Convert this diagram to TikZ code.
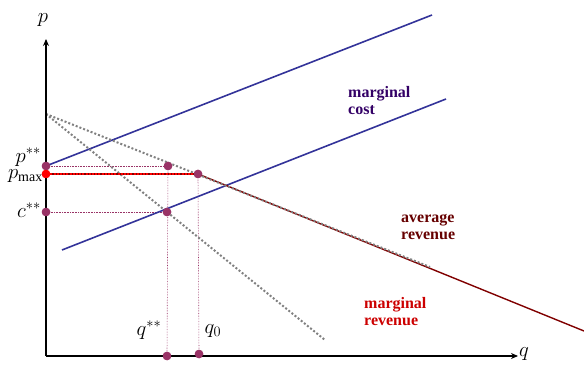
\documentclass[tikz,border=0pt]{standalone}
\usepackage{fontspec}
\setmainfont{Liberation Serif}
\usetikzlibrary{arrows.meta}
\definecolor{mcblue}{HTML}{333399}
\definecolor{ardark}{HTML}{800000}
\definecolor{dotpurple}{HTML}{993366}
\definecolor{mctext}{HTML}{330066}
\definecolor{artext}{HTML}{660000}
\definecolor{mrtext}{HTML}{CC0000}
\tikzset{
  axis/.style={line width=1.2pt, -{Stealth[length=7pt,width=6pt]}},
  mcline/.style={mcblue, line width=1.6pt},
  arline/.style={ardark, line width=1.4pt},
  grayline/.style={gray, line width=2pt, dotted},
  guide/.style={dotpurple, line width=0.6pt, densely dotted},
  dot/.style={circle, fill=dotpurple, inner sep=0pt, minimum size=8.5pt},
  reddot/.style={circle, fill=red, inner sep=0pt, minimum size=8.5pt},
  mlabel/.style={font=\fontsize{20}{20}\selectfont, inner sep=0pt},
  curvelabel/.style={font=\fontsize{16}{17}\selectfont\bfseries, align=left, inner sep=0pt, anchor=north west},
}
\begin{document}
\begin{tikzpicture}[x=1pt,y=-1pt]
\useasboundingbox (0,0) rectangle (584,374);
% coordinates
\coordinate (O) at (46,356);
\coordinate (ytop) at (46,39);
\coordinate (xend) at (518,356);
\coordinate (mc1a) at (46,166);
\coordinate (mc1b) at (432,15);
\coordinate (mc2a) at (62,250);
\coordinate (mc2b) at (446,99);
\coordinate (A) at (46,114);
\coordinate (arend) at (584,331);
\coordinate (grayend) at (430,267);
\coordinate (mrend) at (325,340);
% guides
\node[dot] (pss) at (46,166) {};
\node[dot] (css) at (46,212) {};
\node[dot] (Ep) at (168,166) {};
\node[dot] (Ec) at (167,212) {};
\node[dot] (E0) at (198,174) {};
\node[dot] (qss) at (167,356) {};
\node[dot] (q0) at (199,354) {};
\node[reddot] (pmax) at (46,174) {};
\draw[guide] (pss.center) -- (Ep.center);
\draw[guide] (css.center) -- (Ec.center);
\draw[guide] (Ep.center) -- (qss.center);
\draw[guide] (E0.center) -- (q0.center);
% curves
\draw[mcline] (mc1a) -- (mc1b);
\draw[mcline] (mc2a) -- (mc2b);
\draw[arline] (E0.center) -- (arend);
\draw[grayline] (A) -- (grayend);
\draw[grayline] (A) -- (mrend);
\draw[red, line width=2pt] (pmax.center) -- (E0.center);
\draw[ardark, line width=1.2pt, dotted] (pmax.center) -- (E0.center);
% axes
\draw[axis] (O) -- (ytop);
\draw[axis] (O) -- (xend);
% redraw dots above lines
\node[dot] at (pss) {};
\node[dot] at (css) {};
\node[dot] at (Ep) {};
\node[dot] at (Ec) {};
\node[dot] at (E0) {};
\node[dot] at (qss) {};
\node[dot] at (q0) {};
\node[reddot] at (pmax) {};
% labels
\node[mlabel] (lp) at (43,20) {$p$};
\node[mlabel] (lq) at (524,354) {$q$};
\node[mlabel, anchor=east] (lpss) at (41,157) {$p^{**}$};
\node[mlabel, anchor=east] (lpmax) at (43,176) {$p_{\max}$};
\node[mlabel, anchor=east] (lcss) at (41,210) {$c^{**}$};
\node[mlabel] (lqss) at (149,330) {$q^{**}$};
\node[mlabel] (lq0) at (213,331) {$q_0$};
\node[curvelabel, text=mctext] (lmc) at (348,86) {marginal\\cost};
\node[curvelabel, text=artext] (lar) at (401,214) {average\\revenue};
\node[curvelabel, text=mrtext] (lmr) at (364,297) {marginal\\revenue};
\end{tikzpicture}
\end{document}
